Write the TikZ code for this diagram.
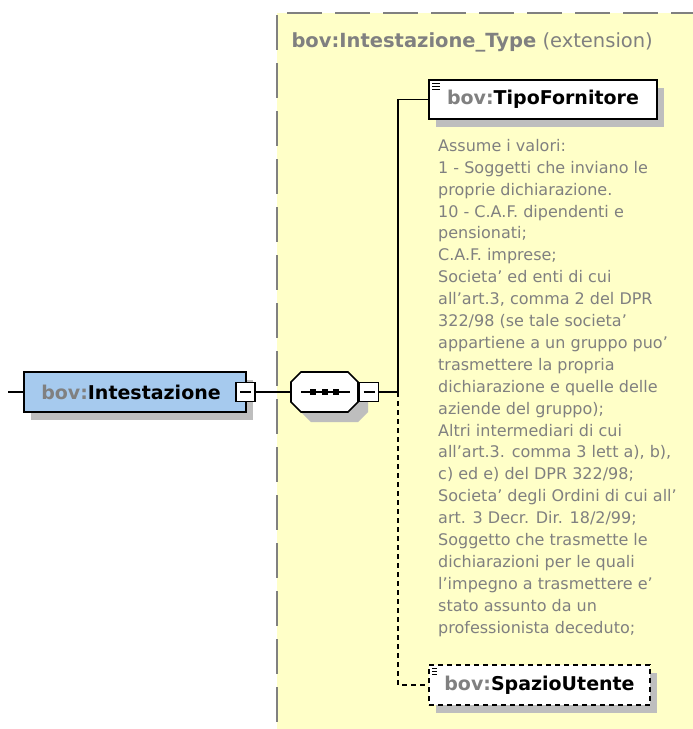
\documentclass[tikz,border=0pt]{standalone}
\usepackage{fontspec}
\setmainfont{DejaVu Sans}
\usetikzlibrary{shadows}
\definecolor{notebg}{RGB}{255,255,200}
\definecolor{elemblue}{RGB}{166,202,238}
\definecolor{lblgray}{RGB}{128,128,128}
\definecolor{shadegray}{RGB}{190,190,190}
\tikzset{>=stealth}
\tikzset{
  conn/.style={line width=1.4pt},
  optconn/.style={line width=1.4pt, dash pattern=on 5pt off 4pt},
  elem/.style={draw, line width=1.6pt, fill=white, minimum height=39pt, inner sep=0pt,
    font=\fontsize{19}{22}\selectfont\bfseries,
    drop shadow={shadow xshift=7pt, shadow yshift=-8pt, fill=shadegray, opacity=1}},
  docicon/.style={path picture={
    \foreach \d in {3,6,9}
      \draw[line width=1pt] ([xshift=3pt,yshift=-\d pt]path picture bounding box.north west) -- ++(8pt,0);}},
  minusbox/.style={draw, line width=1.6pt, fill=white, minimum width=19pt, minimum height=19pt, inner sep=0pt,
    path picture={\draw[line width=1.2pt] ([xshift=4pt]path picture bounding box.west) -- ([xshift=-4pt]path picture bounding box.east);}},
}
\newcommand{\pre}{{\color{lblgray}bov:}}

\begin{document}
\begin{tikzpicture}[x=1pt, y=-1pt]
	\useasboundingbox (0,0) rectangle (693,729);
	% extension area
	\fill[notebg] (277,13) rectangle (693,729);
	\draw[lblgray, line width=2pt, dash pattern=on 35pt off 13pt, dash phase=-10pt] (277,13) -- (693,13);
	\draw[lblgray, line width=2pt, dash pattern=on 35pt off 13pt] (277,15) -- (277,729);
	\node[anchor=west, text=lblgray, font=\fontsize{19.5}{22}\selectfont] (hdr) at (288,42) {\textbf{bov:Intestazione\_Type} (extension)};

	\node[elem, fill=elemblue, minimum width=222pt, minimum height=40pt] (intest) at (135,392) {\pre Intestazione\hspace*{8pt}};
	\node[minusbox] (minA) at (245.5,392) {};
	\coordinate (lft) at (8,392);

	% sequence compositor
	\node[minimum width=67pt, minimum height=40pt, inner sep=0pt] (seq) at (324.5,392) {};
	\fill[shadegray, shift={(seq.center)}] (-23.5,0) -- (-13.5,-10) -- (33.5,-10) -- (43.5,0) -- (43.5,20) -- (33.5,30) -- (-13.5,30) -- (-23.5,20) -- cycle;
	\draw[line width=1.6pt, fill=white, shift={(seq.center)}] (-33.5,-10) -- (-23.5,-20) -- (23.5,-20) -- (33.5,-10) -- (33.5,10) -- (23.5,20) -- (-23.5,20) -- (-33.5,10) -- cycle;
	\draw[line width=1.4pt] (301,392) -- (350,392);
	\foreach \x in {313,324.5,336}
	\fill (\x-3,389) rectangle (\x+3,395);
	\node[minusbox] (minB) at (369,392) {};
	\coordinate (jn) at (398,392);

	\node[elem, docicon, minimum width=228pt] (tipo) at (543,99.5) {\pre TipoFornitore};
	\node[elem, docicon, dash pattern=on 5pt off 4pt, minimum width=221pt, minimum height=40pt] (spazio) at (539.5,685) {\pre SpazioUtente};

	\node[anchor=north west, inner sep=0pt, align=left, text=lblgray, font=\fontsize{16}{21.9}\selectfont] (note) at (438,139) {Assume i valori:\\
	1 - Soggetti che inviano le\\
	proprie dichiarazione.\\
	10 - C.A.F. dipendenti e\\
	pensionati;\\
	C.A.F. imprese;\\
	Societa' ed enti di cui\\
	all'art.3, comma 2 del DPR\\
	322/98 (se tale societa'\\
	appartiene a un gruppo puo'\\
	trasmettere la propria\\
	dichiarazione e quelle delle\\
	aziende del gruppo);\\
	Altri intermediari di cui\\
	all'art.3. comma 3 lett a), b),\\
	c) ed e) del DPR 322/98;\\
	Societa' degli Ordini di cui all'\\
	art. 3 Decr. Dir. 18/2/99;\\
	Soggetto che trasmette le\\
	dichiarazioni per le quali\\
	l'impegno a trasmettere e'\\
	stato assunto da un\\
	professionista deceduto;};

	\draw[conn] (lft) -- (intest.west);
	\draw[conn] (minA.east) -- (seq.west);
	\draw[conn] (minB.east) -- (jn);
	\draw[conn] (jn) |- (tipo.west);
	\draw[optconn] (jn) |- (spazio.west);
\end{tikzpicture}
\end{document}
